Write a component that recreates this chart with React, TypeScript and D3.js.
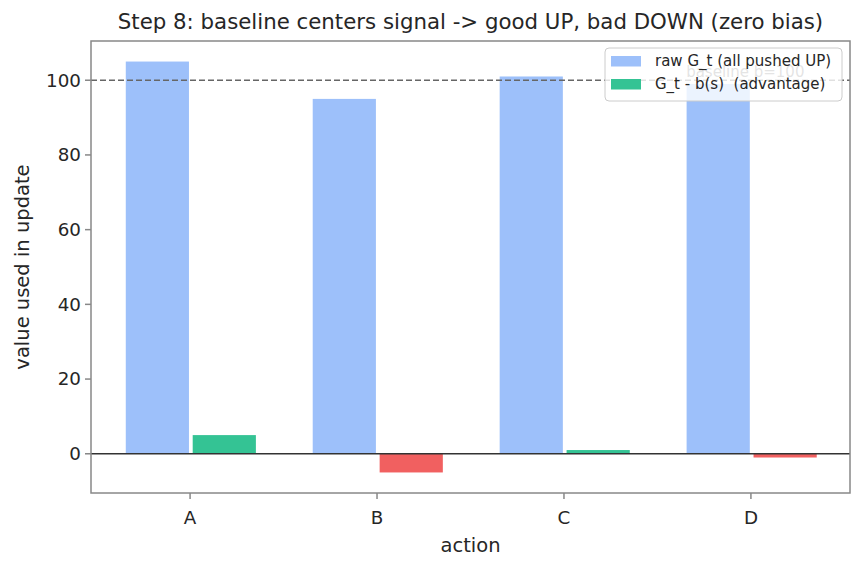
import React from "react";
import * as d3 from "d3";

const categories = ["A", "B", "C", "D"];
const rawValues = [105, 95, 101, 99];
const advantageValues = [5, -5, 1, -1];
const yTicks = [0, 20, 40, 60, 80, 100];
const baselineValue = 100;
const legendLabels = ["raw G_t (all pushed UP)", "G_t - b(s)  (advantage)"];

const W = 864;
const H = 567;
const M = { left: 91, right: 850, top: 41, bottom: 493 };
const FONT = "DejaVu Sans, sans-serif";

const BLUE = "#9dc0fa";
const GREEN = "#34c394";
const RED = "#f16060";

export default function App() {
  const x = d3.scaleLinear().domain([-0.53, 3.53]).range([M.left, M.right]);
  const y = d3.scaleLinear().domain([-10.5, 110.5]).range([M.bottom, M.top]);
  const unit = x(1) - x(0);
  const bw = 0.338 * unit;
  const offL = 0.175 * unit;
  const offR = 0.183 * unit;

  return (
    <svg width={W} height={H} style={{ position: "absolute", left: 0, top: 0, background: "#fff" }} fontFamily={FONT}>
      <rect x={0} y={0} width={W} height={H} fill="#fff" />
      {/* raw bars */}
      {rawValues.map((v, i) => (
        <rect key={"r" + i} x={x(i) - offL - bw / 2} y={y(v)} width={bw} height={y(0) - y(v)} fill={BLUE} />
      ))}
      {/* advantage bars */}
      {advantageValues.map((v, i) => (
        <rect
          key={"a" + i}
          x={x(i) + offR - bw / 2}
          y={Math.min(y(v), y(0))}
          width={bw}
          height={Math.abs(y(0) - y(v))}
          fill={v >= 0 ? GREEN : RED}
        />
      ))}
      {/* zero line */}
      <line x1={M.left} x2={M.right} y1={y(0)} y2={y(0)} stroke="#333" strokeWidth={1.4} />
      {/* baseline */}
      <line x1={M.left} x2={M.right} y1={y(baselineValue)} y2={y(baselineValue)} stroke="#666" strokeWidth={1.4} strokeDasharray="6,3" />
      <text x={x(2.97)} y={y(baselineValue) - 3} textAnchor="middle" fontSize={15} fill="#777">
        baseline b={baselineValue}
      </text>
      {/* frame */}
      <rect x={M.left} y={M.top} width={M.right - M.left} height={M.bottom - M.top} fill="none" stroke="#888" strokeWidth={1.5} />
      {/* y ticks */}
      {yTicks.map((t) => (
        <g key={"yt" + t}>
          <line x1={M.left - 6} x2={M.left} y1={y(t)} y2={y(t)} stroke="#888" strokeWidth={1.5} />
          <text x={M.left - 10} y={y(t)} dy="0.35em" textAnchor="end" fontSize={18.3} fill="#262626">
            {t}
          </text>
        </g>
      ))}
      {/* x ticks */}
      {categories.map((c, i) => (
        <g key={"xt" + c}>
          <line x1={x(i)} x2={x(i)} y1={M.bottom} y2={M.bottom + 6} stroke="#888" strokeWidth={1.5} />
          <text x={x(i)} y={M.bottom + 25} dy="0.35em" textAnchor="middle" fontSize={18.3} fill="#262626">
            {c}
          </text>
        </g>
      ))}
      {/* axis labels */}
      <text x={(M.left + M.right) / 2} y={545} dy="0.35em" textAnchor="middle" fontSize={19.5} fill="#262626">
        action
      </text>
      <text transform={`translate(22,${(M.top + M.bottom) / 2}) rotate(-90)`} dy="0.35em" textAnchor="middle" fontSize={19.5} fill="#262626">
        value used in update
      </text>
      {/* title */}
      <text x={(M.left + M.right) / 2} y={22} dy="0.35em" textAnchor="middle" fontSize={21.3} fill="#262626">
        Step 8: baseline centers signal -&gt; good UP, bad DOWN (zero bias)
      </text>
      {/* legend */}
      <g>
        <rect x={605} y={48} width={237} height={53} rx={4} fill="#fff" fillOpacity={0.8} stroke="#ccc" strokeWidth={1} />
        {legendLabels.map((l, i) => (
          <g key={"lg" + i}>
            <rect x={611} y={56 + i * 23} width={30} height={10.5} fill={i === 0 ? BLUE : GREEN} />
            <text x={655} y={61 + i * 23} dy="0.35em" fontSize={15} fill="#262626" style={{ whiteSpace: "pre" }}>
              {l}
            </text>
          </g>
        ))}
      </g>
    </svg>
  );
}
